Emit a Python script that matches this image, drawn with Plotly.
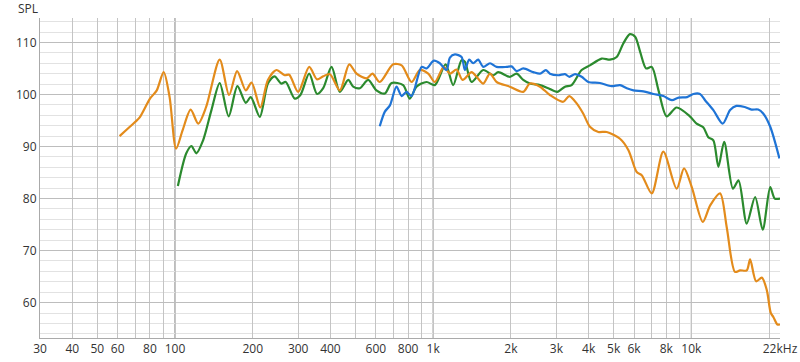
import plotly.graph_objects as go

# ---- data (Hz, dB SPL) ----
orange_f = [61, 70, 73, 80, 85, 90.4, 95.3, 101, 107, 115, 123, 132, 149, 162, 174, 188, 198, 214, 229, 247,
            266, 277, 300, 331, 355, 375, 398, 435, 473, 505, 552, 582, 621, 700, 755, 825, 888, 957, 1015, 1100,
            1161, 1232, 1300, 1409, 1474, 1563, 1660, 1761, 1983, 2233, 2371, 2593, 2832, 3190, 3367, 3595, 3815,
            4047, 4362, 4700, 5293, 5706, 6143, 6425, 7025, 7790, 8770, 9370, 10040, 11070, 11830, 12920, 13710,
            14760, 15440, 16390, 16890, 17820, 18750, 19600, 20310, 20800, 21550, 22050]
orange_db = [92.0, 94.7, 95.6, 99.2, 100.8, 104.3, 99.5, 89.6, 93.1, 97.1, 94.4, 97.6, 106.7, 99.9, 104.5, 100.8,
             102.3, 97.5, 102.8, 104.7, 103.7, 103.8, 100.5, 105.3, 102.9, 103.5, 103.9, 100.8, 105.8, 104.0, 103.1,
             104.0, 102.4, 105.8, 105.6, 102.4, 104.7, 104.0, 102.4, 105.3, 104.0, 104.8, 102.8, 104.3, 103.4, 102.1,
             104.0, 102.4, 101.5, 100.5, 102.1, 101.5, 99.9, 98.6, 99.7, 98.3, 96.3, 93.8, 92.8, 92.8, 91.5, 89.3,
             85.1, 84.5, 81.0, 89.0, 81.9, 85.8, 82.2, 75.5, 78.7, 81.0, 74.5, 65.9, 66.2, 66.2, 68.3, 64.1, 64.8,
             62.4, 58.0, 57.2, 55.8, 55.8]

green_f = [102.6, 110.6, 115.8, 121, 128.5, 138.4, 149, 161.4, 174.5, 188, 196.6, 213, 229, 243, 258, 268.5, 291,
           306, 331, 355, 375, 404, 435, 469, 490, 520, 560, 603, 650, 690, 765, 812, 862, 943, 1015, 1117, 1195,
           1288, 1327, 1409, 1563, 1709, 1786, 1983, 2104, 2233, 2371, 2593, 2791, 3025, 3241, 3439, 3759, 4047,
           4495, 4838, 5138, 5450, 5780, 6057, 6335, 6684, 7025, 7460, 8030, 8770, 9870, 10480, 11120, 11630,
           12170, 12730, 13400, 14490, 15230, 16390, 17660, 18900, 20210, 21040, 22050]
green_db = [82.4, 88.7, 90.1, 88.7, 91.2, 97.0, 102.2, 95.8, 101.6, 98.4, 99.5, 95.7, 102.1, 103.5, 102.1, 102.4,
            99.2, 99.9, 104.0, 100.1, 101.2, 105.3, 100.5, 102.8, 101.5, 101.2, 102.8, 100.8, 100.2, 102.2, 101.8,
            99.2, 101.5, 102.4, 101.8, 105.8, 101.8, 106.6, 106.3, 102.4, 104.7, 103.7, 104.3, 103.4, 104.0, 102.8,
            102.1, 101.8, 101.2, 100.5, 101.5, 101.8, 104.7, 105.6, 106.9, 106.7, 107.2, 109.8, 111.6, 111.1, 108.2,
            105.0, 105.3, 100.8, 95.8, 97.5, 95.8, 94.4, 93.7, 91.8, 91.2, 86.1, 90.9, 81.9, 83.5, 75.2, 80.3, 74.0,
            82.2, 80.0, 80.0]

blue_f = [621, 650, 680, 721, 755, 788, 825, 902, 943, 1006, 1061, 1127, 1161, 1214, 1288, 1327, 1379, 1429, 1494,
          1563, 1660, 1761, 1925, 2012, 2104, 2233, 2441, 2593, 2730, 2832, 3052, 3241, 3367, 3543, 3759, 3988,
          4425, 4906, 5293, 5625, 5968, 6521, 7128, 7790, 8410, 8930, 9630, 10180, 10800, 11300, 12170, 13230,
          14130, 14940, 16100, 17100, 18150, 19010, 20210, 21940]
blue_db = [93.9, 96.7, 97.9, 101.5, 99.7, 100.5, 99.7, 105.3, 105.0, 106.5, 106.0, 104.7, 107.1, 107.7, 107.2,
           104.7, 106.7, 106.0, 106.7, 105.3, 106.0, 105.3, 105.3, 105.4, 104.5, 105.0, 104.3, 104.0, 104.7, 104.0,
           103.7, 103.9, 103.4, 103.9, 103.4, 102.4, 102.2, 101.6, 101.8, 101.2, 100.8, 100.6, 100.1, 99.7, 98.9,
           99.4, 99.5, 100.1, 100.1, 98.9, 97.0, 94.4, 97.0, 97.8, 97.6, 97.1, 97.1, 96.3, 93.8, 87.7]

x_tickvals = [30, 40, 50, 60, 70, 80, 90, 100, 200, 300, 400, 500, 600, 700, 800, 900, 1000,
              2000, 3000, 4000, 5000, 6000, 7000, 8000, 9000, 10000, 20000, 22050]
x_ticktext = ["30", "40", "50", "60", "", "80", "", "100", "200", "300", "400", "", "600", "", "800", "", "1k",
              "2k", "3k", "4k", "5k", "6k", "", "8k", "", "10k", "", "22kHz"]
decade_lines = [100, 1000, 10000]
y_tickvals = [60, 70, 80, 90, 100, 110]

FONT = "Open Sans"

fig = go.Figure()

for f, v, c in [(green_f, green_db, "#2b8a2e"), (orange_f, orange_db, "#e38b1b"), (blue_f, blue_db, "#1f74d6")]:
    fig.add_trace(go.Scatter(x=f, y=v, mode="lines",
                             line=dict(color=c, width=2.2, shape="spline", smoothing=0.8),
                             hoverinfo="skip", showlegend=False))

for d in decade_lines:
    fig.add_shape(type="line", xref="x", yref="paper", x0=d, x1=d, y0=0, y1=1,
                  line=dict(color="#7a7a7a", width=1), layer="below")

fig.update_layout(
    width=800, height=362,
    margin=dict(l=40, r=20, t=18, b=24, autoexpand=False),
    paper_bgcolor="white", plot_bgcolor="white",
    font=dict(family=FONT, size=12, color="#333333"),
    xaxis=dict(type="log", range=[1.4771, 4.3434], automargin=False,
               tickmode="array", tickvals=x_tickvals, ticktext=x_ticktext,
               showgrid=True, gridcolor="#c4c4c4", gridwidth=1,
               showline=True, linecolor="#aaaaaa", zeroline=False,
               ticks="", ticklen=0, tickfont=dict(size=12, color="#333333")),
    yaxis=dict(range=[53.2, 114.7], tickmode="array", tickvals=y_tickvals, automargin=False,
               showgrid=True, gridcolor="#bdbdbd", gridwidth=1,
               minor=dict(dtick=2, tick0=0, showgrid=True, gridcolor="#e2e2e2", ticks=""),
               showline=True, linecolor="#aaaaaa", zeroline=False,
               ticks="", tickfont=dict(size=12, color="#333333")),
)

fig.add_annotation(text="SPL", xref="paper", yref="paper", x=-0.016, y=1.0, xanchor="center", yanchor="bottom",
                   showarrow=False, yshift=-1, font=dict(size=12, color="#333333"))

fig.write_html("out.html", config={"responsive": False, "displayModeBar": False},
               post_script="document.body.style.margin='0px';document.body.style.overflow='hidden';")
